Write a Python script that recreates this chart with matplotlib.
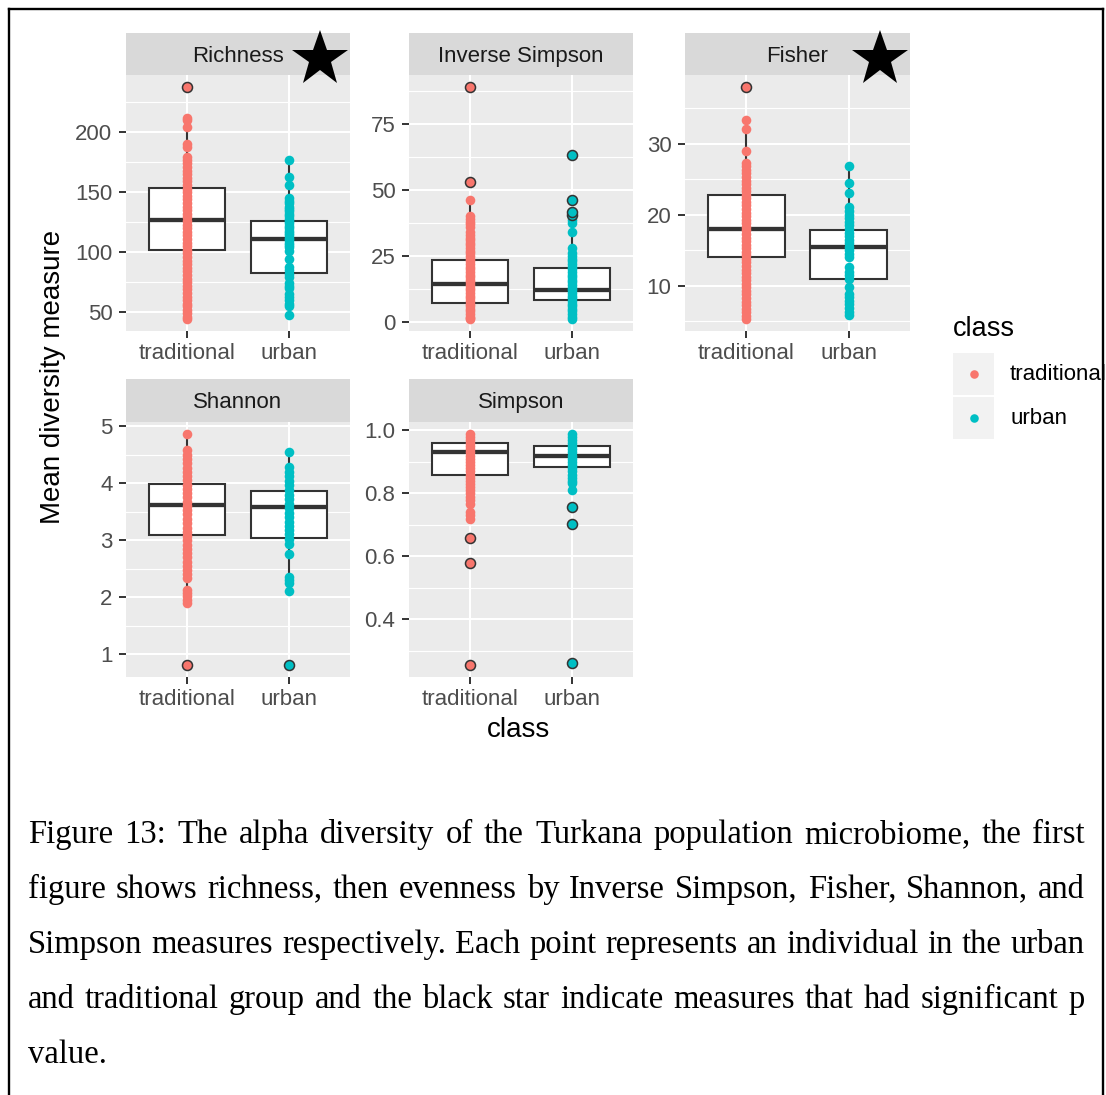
import matplotlib.pyplot as plt
from matplotlib.patches import Rectangle

plt.rcParams['font.family'] = ['Liberation Sans', 'DejaVu Sans']

W, H = 1106, 1095

groups = ["traditional", "urban"]
group_colors = ["#F8766D", "#00BFC4"]
significant = ["Richness", "Fisher"]

# ---- Richness ----
richness_trad = [44, 46, 49, 52, 55, 57, 60, 63, 66, 69, 72, 75, 78, 81, 84, 87,
                 90, 93, 96, 99, 102, 105, 108, 111, 114, 117, 120, 123, 126, 129,
                 132, 135, 138, 141, 144, 147, 150, 153, 156, 159, 162, 165, 168,
                 171, 174, 177, 179, 188, 190, 204, 210, 212]
richness_urban = [48, 55, 57, 60, 63, 65, 70, 72, 74, 79, 82, 85, 88, 94, 101, 104,
                  106, 108, 110, 112, 114, 116, 118, 120, 122, 124, 126, 128, 130,
                  132, 134, 136, 138, 141, 143, 145, 156, 163, 177]
richness_trad_out = [238]
richness_urban_out = []
richness_box = [(102.2, 126.5, 153.9, 44, 212), (82.7, 110.6, 126.0, 48, 177)]
richness_ticks = [50, 100, 150, 200]

# ---- Inverse Simpson ----
invsimp_trad = [1, 1.5, 2, 3, 4, 5, 6, 7, 8, 9, 10, 11, 12, 13, 14, 15, 16, 17, 18,
                19, 20, 21, 22, 23, 24, 25, 26, 27, 28, 29, 30, 31, 32, 33, 34, 36,
                37, 38, 39, 40, 46.4]
invsimp_urban = [1, 2, 3, 4, 5, 6, 7, 8, 9, 10, 11, 12, 13, 14, 15, 16, 17, 18, 19,
                 20, 21, 22, 23, 24, 25, 26, 28.2, 34.2, 37.6, 38.5]
invsimp_trad_out = [53, 89.2]
invsimp_urban_out = [40.4, 41.8, 46.1, 63.3]
invsimp_box = [(7.1, 14.5, 23.4, 1, 46.4), (8.2, 12.1, 20.6, 1, 38.5)]
invsimp_ticks = [0, 25, 50, 75]

# ---- Fisher ----
fisher_trad = [5.3, 5.8, 6.3, 6.8, 7.3, 7.8, 8.3, 8.8, 9.3, 9.8, 10.3, 10.8, 11.3,
               11.8, 12.3, 12.8, 13.3, 13.8, 14.3, 14.8, 15.3, 15.8, 16.3, 16.8,
               17.3, 17.8, 18.3, 18.8, 19.3, 19.8, 20.3, 20.8, 21.3, 21.8, 22.3,
               22.8, 23.3, 23.8, 24.3, 24.8, 25.3, 25.8, 26.3, 26.8, 27.3, 28.9,
               32.0, 33.3]
fisher_urban = [5.9, 6.4, 6.9, 7.4, 7.9, 8.4, 8.8, 9.8, 11.0, 11.5, 12.0, 12.6, 14.0,
                14.5, 15.0, 15.5, 16.0, 16.5, 17.0, 17.5, 18.0, 18.5, 19.0, 19.5,
                20.0, 20.5, 21.1, 23.1, 24.4, 26.8]
fisher_trad_out = [38.0]
fisher_urban_out = []
fisher_box = [(14.0, 18.0, 22.8, 5.3, 33.3), (11.0, 15.4, 17.9, 5.9, 26.8)]
fisher_ticks = [10, 20, 30]

# ---- Shannon ----
shannon_trad = [1.89, 1.95, 2.02, 2.08, 2.13, 2.33, 2.40, 2.47, 2.55, 2.62, 2.70,
                2.77, 2.85, 2.92, 3.00, 3.07, 3.15, 3.22, 3.30, 3.37, 3.45, 3.52,
                3.60, 3.67, 3.75, 3.82, 3.90, 3.97, 4.05, 4.12, 4.20, 4.27, 4.35,
                4.42, 4.50, 4.58, 4.87]
shannon_urban = [2.10, 2.24, 2.30, 2.36, 2.75, 2.94, 3.02, 3.10, 3.17, 3.25, 3.32,
                 3.40, 3.48, 3.56, 3.64, 3.72, 3.80, 3.88, 3.96, 4.04, 4.12, 4.20,
                 4.29, 4.55]
shannon_trad_out = [0.80]
shannon_urban_out = [0.80]
shannon_box = [(3.09, 3.61, 3.98, 1.89, 4.87), (3.03, 3.58, 3.86, 2.10, 4.55)]
shannon_ticks = [1, 2, 3, 4, 5]

# ---- Simpson ----
simpson_trad = [0.72, 0.73, 0.74, 0.765, 0.78, 0.79, 0.80, 0.81, 0.82, 0.83, 0.84,
                0.85, 0.86, 0.87, 0.88, 0.89, 0.90, 0.91, 0.92, 0.93, 0.94, 0.95,
                0.96, 0.97, 0.98, 0.99]
simpson_urban = [0.81, 0.832, 0.84, 0.85, 0.86, 0.87, 0.88, 0.89, 0.90, 0.91, 0.92,
                 0.93, 0.94, 0.95, 0.96, 0.97, 0.98, 0.99]
simpson_trad_out = [0.254, 0.58, 0.657]
simpson_urban_out = [0.261, 0.703, 0.756]
simpson_box = [(0.859, 0.933, 0.959, 0.72, 0.99), (0.883, 0.919, 0.952, 0.81, 0.99)]
simpson_ticks = [0.4, 0.6, 0.8, 1.0]

caption_lines = [
    "Figure 13: The alpha diversity of the Turkana population microbiome, the first",
    "figure shows richness, then evenness by Inverse Simpson, Fisher, Shannon, and",
    "Simpson measures respectively. Each point represents an individual in the urban",
    "and traditional group and the black star indicate measures that had significant p",
    "value.",
]

panels = [
    ("Richness", richness_trad, richness_urban, richness_trad_out, richness_urban_out,
     richness_box, richness_ticks, "{:g}"),
    ("Inverse Simpson", invsimp_trad, invsimp_urban, invsimp_trad_out, invsimp_urban_out,
     invsimp_box, invsimp_ticks, "{:g}"),
    ("Fisher", fisher_trad, fisher_urban, fisher_trad_out, fisher_urban_out,
     fisher_box, fisher_ticks, "{:g}"),
    ("Shannon", shannon_trad, shannon_urban, shannon_trad_out, shannon_urban_out,
     shannon_box, shannon_ticks, "{:g}"),
    ("Simpson", simpson_trad, simpson_urban, simpson_trad_out, simpson_urban_out,
     simpson_box, simpson_ticks, "{:.1f}"),
]

# facet grid in pixels: column (left, right), row (strip_top, panel_top, panel_bottom)
columns = [(126, 350), (409, 633), (685, 910)]
rows = [(33, 75, 331), (379, 422, 677)]
INK = "#333333"


def px_rect(left, top, right, bottom):
    return [left / W, 1 - bottom / H, (right - left) / W, (bottom - top) / H]


fig = plt.figure(figsize=(W / 100, H / 100), dpi=100)
fig.patch.set_facecolor("white")

panel_pos = {}
for i, (title, trad, urban, t_out, u_out, box, ticks, fmt) in enumerate(panels):
    left, right = columns[i % 3]
    strip_top, top, bottom = rows[i // 3]
    panel_pos[title] = (left, right, strip_top, top)

    ax = fig.add_axes(px_rect(left, top, right, bottom))
    allv = trad + urban + t_out + u_out
    lo, hi = min(allv), max(allv)
    pad = 0.05 * (hi - lo)
    ax.set_ylim(lo - pad, hi + pad)
    ax.set_xlim(0.4, 2.6)
    ax.set_facecolor("#EBEBEB")

    step = ticks[1] - ticks[0]
    minor = [t - step / 2 for t in ticks] + [ticks[-1] + step / 2]
    for m in minor:
        if lo - pad < m < hi + pad:
            ax.axhline(m, color="white", lw=0.85, zorder=0)
    for t in ticks:
        ax.axhline(t, color="white", lw=1.5, zorder=0)
    for x in (1, 2):
        ax.axvline(x, color="white", lw=1.5, zorder=0)

    stats = [dict(q1=q1, med=med, q3=q3, whislo=wl, whishi=wh, fliers=[])
             for (q1, med, q3, wl, wh) in box]
    ax.bxp(stats, positions=[1, 2], widths=0.75, patch_artist=True,
           showfliers=False, showcaps=False,
           boxprops=dict(facecolor="white", edgecolor=INK, linewidth=1.5),
           medianprops=dict(color=INK, linewidth=3.1, solid_capstyle="butt"),
           whiskerprops=dict(color=INK, linewidth=1.5))

    for x, vals, outs, col in [(1, trad, t_out, group_colors[0]),
                               (2, urban, u_out, group_colors[1])]:
        ax.scatter([x] * len(vals), vals, s=48, color=col, linewidths=0, zorder=3)
        if outs:
            ax.scatter([x] * len(outs), outs, s=52, facecolor=col, edgecolor=INK,
                       linewidths=1.1, zorder=4)

    ax.set_xticks([1, 2])
    ax.set_xticklabels(groups)
    ax.set_yticks(ticks)
    ax.set_yticklabels([fmt.format(t) for t in ticks])
    ax.tick_params(axis="both", length=4.8, width=1.4, color=INK,
                   labelcolor="#4D4D4D", labelsize=16)
    ax.tick_params(axis="y", pad=5)
    ax.tick_params(axis="x", pad=4)
    for s in ax.spines.values():
        s.set_visible(False)

    sax = fig.add_axes(px_rect(left, strip_top, right, top))
    sax.set_facecolor("#D9D9D9")
    sax.set_xticks([])
    sax.set_yticks([])
    for s in sax.spines.values():
        s.set_visible(False)
    sax.text(0.5, 0.45, title, ha="center", va="center", fontsize=16,
             color="#1A1A1A", transform=sax.transAxes)

# overlay in pixel units for titles, stars, legend, caption and frame
ov = fig.add_axes([0, 0, 1, 1], zorder=10)
ov.set_xlim(0, W)
ov.set_ylim(H, 0)
ov.axis("off")

ov.text(518, 737, "class", ha="center", va="baseline", fontsize=20)
ov.text(53, 377, "Mean diversity measure", ha="center", va="center",
        rotation=90, fontsize=20)

for title in significant:
    left, right, strip_top, top = panel_pos[title]
    ov.plot([right - 30], [strip_top + 26], marker="*", ms=42, color="black",
            markeredgewidth=0)

# legend
ov.text(953, 336, "class", ha="left", va="baseline", fontsize=19.5)
for k, (name, col) in enumerate(zip(groups, group_colors)):
    y0 = 353 + k * 44
    ov.add_patch(Rectangle((953, y0), 41, 42, facecolor="#F2F2F2", edgecolor="none"))
    ov.scatter([974], [y0 + 21], s=38, color=col, linewidths=0)
    ov.text(1010, y0 + 22, name, ha="left", va="center", fontsize=16)

# justified caption
cap_kw = dict(fontsize=23.5, family=["Liberation Serif", "DejaVu Serif"],
              va="baseline", ha="left", color="black")
x0, x1 = 28, 1085
renderer = fig.canvas.get_renderer()
for i, line in enumerate(caption_lines):
    y = 843 + i * 55
    if i == len(caption_lines) - 1:
        ov.text(x0, y, line, **cap_kw)
        continue
    words = line.split()
    arts = [ov.text(0, y, w, **cap_kw) for w in words]
    widths = [a.get_window_extent(renderer).width for a in arts]
    gap = (x1 - x0 - sum(widths)) / (len(words) - 1)
    x = x0
    for a, w in zip(arts, widths):
        a.set_x(x)
        x += w + gap

# frame
ov.plot([9, 9], [H + 5, 9], color="black", lw=1.7, solid_capstyle="projecting")
ov.plot([9, 1103], [9, 9], color="black", lw=1.7, solid_capstyle="projecting")
ov.plot([1103, 1103], [9, H + 5], color="black", lw=1.7, solid_capstyle="projecting")

fig.savefig("out.png", dpi=100)
plt.close(fig)
